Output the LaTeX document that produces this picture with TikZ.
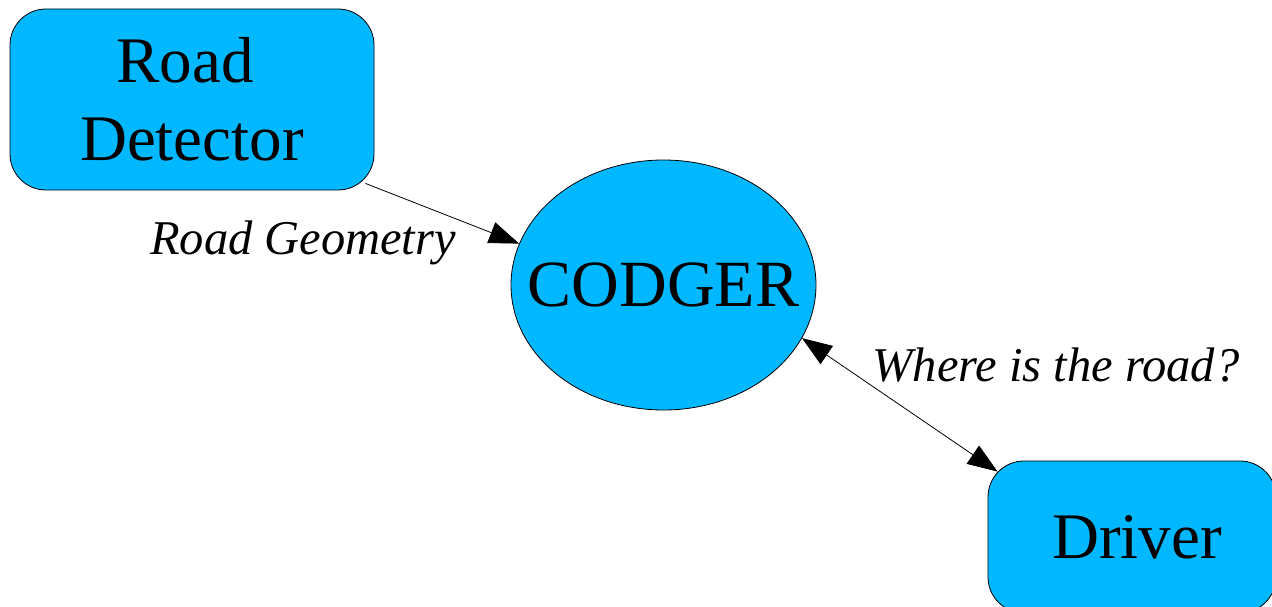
\documentclass[tikz,border=0pt]{standalone}
\usepackage{fontspec}
\setmainfont{Liberation Serif}
\usetikzlibrary{shapes.geometric,arrows.meta}
\definecolor{boxblue}{RGB}{0,184,255}
\tikzset{
  block/.style={draw=black, line width=0.8pt, fill=boxblue, rounded corners=36pt,
    align=center, inner sep=0pt, font=\fontsize{65}{78}\selectfont},
  hub/.style={draw=black, line width=0.8pt, fill=boxblue, ellipse, inner ysep=0pt,
    inner xsep=-29pt, font=\fontsize{66}{78}\selectfont},
  link/.style={line width=0.8pt, -{Triangle[length=30pt,width=22pt]}},
  both/.style={line width=0.8pt, {Triangle[length=30pt,width=22pt]}-{Triangle[length=30pt,width=22pt]}},
  tag/.style={font=\fontsize{48.5}{54}\selectfont\itshape, inner sep=0pt}
}
\begin{document}
\begin{tikzpicture}[x=1pt,y=-1pt]
  \useasboundingbox (0,0) rectangle (1272,607);
  \node[block, minimum width=364pt, minimum height=181pt] (rd) at (192,99.5) {Road\kern14pt\\Detector};
  \node[hub, minimum width=305pt, minimum height=250pt] (cod) at (663.5,285) {CODGER};
  \node[block, minimum width=288pt, minimum height=152pt] (drv) at (1132,537) {\kern10pt Driver};
  \draw[link] ([shift={(-9,-7)}]rd.south east) -- (cod.164);
  \draw[both] (cod.-21) -- ([shift={(10,11)}]drv.north west);
  \node[tag, anchor=base] (lg) at (303,254) {Road Geometry};
  \node[tag, anchor=base] (lw) at (1056,381) {Where is the road?};
\end{tikzpicture}
\end{document}
